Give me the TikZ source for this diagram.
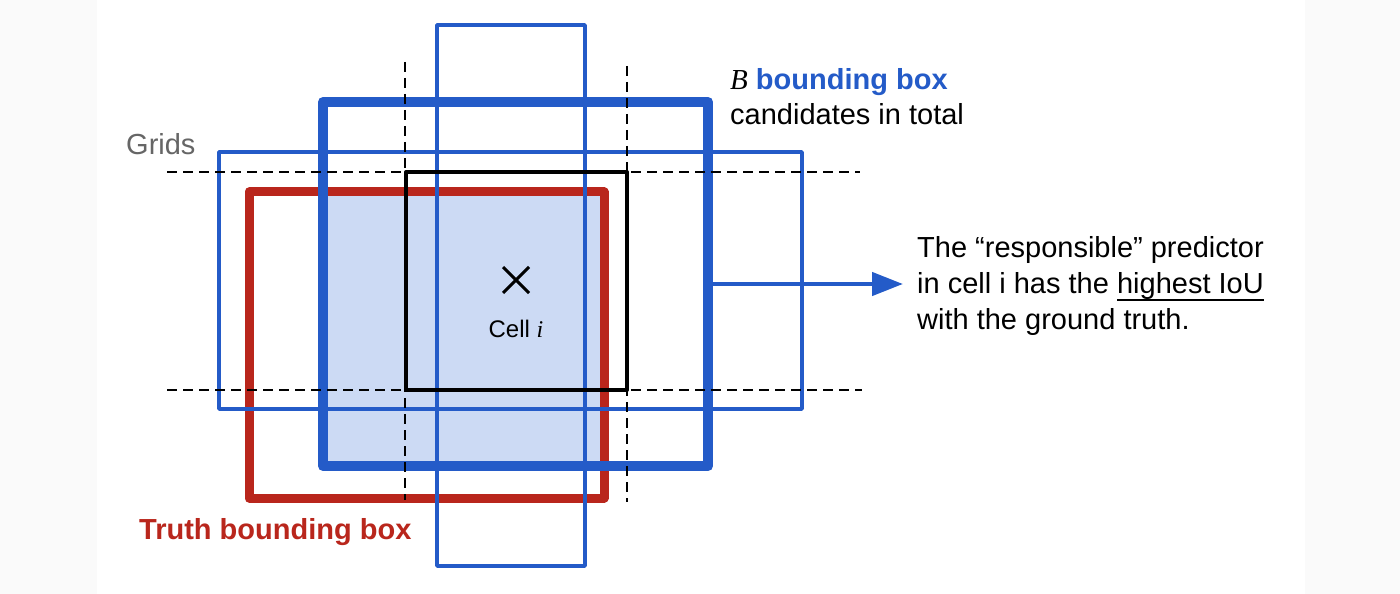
\documentclass[tikz,border=0pt]{standalone}
\usepackage{fontspec}
\setmainfont{Liberation Sans}
\newfontfamily\timesfont{Liberation Serif}
\usetikzlibrary{arrows.meta}
\definecolor{boxblue}{RGB}{36,91,200}
\definecolor{truthred}{RGB}{185,38,28}
\definecolor{overlapfill}{RGB}{204,218,244}
\definecolor{gridgray}{RGB}{102,102,102}
\definecolor{sidegray}{RGB}{250,250,250}
\newcommand\myuline[1]{\setbox0\hbox{#1}\rlap{\rule[-8bp]{\wd0}{1.8bp}}\box0}
\begin{document}
\begin{tikzpicture}[x=1bp,y=-1bp,
  box/.style={draw, rectangle, inner sep=0pt, outer sep=0pt, line join=round},
  thinblue/.style={box, draw=boxblue, line width=3.5bp},
  thickblue/.style={box, draw=boxblue, line width=10bp},
  truthbox/.style={box, draw=truthred, line width=9bp},
  cellbox/.style={box, draw=black, line width=4bp},
  gridline/.style={black, line width=2bp, dash pattern=on 10bp off 6bp},
  lbl/.style={inner sep=0pt, anchor=base west, font=\fontsize{29bp}{35bp}\selectfont}
]
\useasboundingbox (0,0) rectangle (1400,594);
\fill[sidegray] (0,0) rectangle (1400,594);
\fill[white] (97,0) rectangle (1305,594);

% overlap of truth box and best candidate
\fill[overlapfill] (323,192) rectangle (604,466);

\node[truthbox, minimum width=355bp, minimum height=306bp] (truth) at (426.5,345) {};
\node[thickblue, minimum width=385bp, minimum height=364bp] (best) at (515.5,284) {};
\node[thinblue, minimum width=583bp, minimum height=257bp] (wide) at (510.5,280.5) {};
\node[thinblue, minimum width=148bp, minimum height=541bp] (tall) at (511,295.5) {};
\node[cellbox, minimum width=221bp, minimum height=218bp] (cell) at (516.5,281) {};

% grid lines
\draw[gridline] (167,172) -- (860,172);
\draw[gridline] (167,390) -- (862,390);
\draw[gridline] (405,62) -- (405,500);
\draw[gridline] (627,66) -- (627,502);

% cell centre mark
\draw[line width=3bp] (503,267) -- (529,293) (503,293) -- (529,267);
\node[inner sep=0pt, anchor=base, font=\fontsize{24bp}{28bp}\selectfont] (celllbl) at (516,337) {Cell {\timesfont\itshape i}};

% labels
\node[lbl, text=gridgray] (grids) at (126,155) {Grids};
\node[lbl] (btitle) at (730,90) {{\timesfont\itshape B} \textcolor{boxblue}{\bfseries bounding box}};
\node[lbl] (cands) at (730,125) {candidates in total};
\node[lbl, text=truthred] (truthlbl) at (139,539) {\bfseries Truth bounding box};
\node[lbl] (resp1) at (917,257) {The “responsible” predictor};
\node[lbl] (resp2) at (917,293) {in cell i has the \myuline{highest IoU}};
\node[lbl] (resp3) at (917,329) {with the ground truth.};

% arrow
\coordinate (arrowtip) at (903,284);
\draw[boxblue, line width=4.5bp, -{Triangle[length=31bp,width=23bp]}] (best.east) -- (arrowtip);
\end{tikzpicture}
\end{document}
